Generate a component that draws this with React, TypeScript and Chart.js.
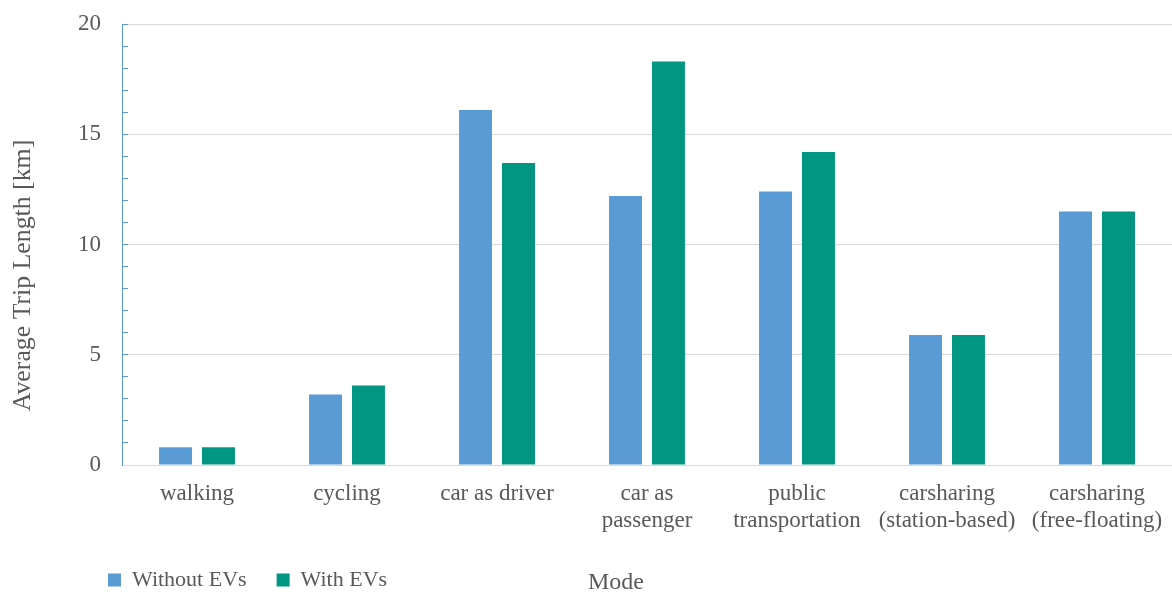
import React, { useEffect, useRef } from 'react';
import { Chart, registerables } from 'chart.js';

Chart.register(...registerables);

const categories: (string | string[])[] = [
  'walking',
  'cycling',
  'car as driver',
  ['car as', 'passenger'],
  ['public', 'transportation'],
  ['carsharing', '(station-based)'],
  ['carsharing', '(free-floating)'],
];
const withoutEVs = [0.8, 3.2, 16.1, 12.2, 12.4, 5.9, 11.5];
const withEVs = [0.8, 3.6, 13.7, 18.3, 14.2, 5.9, 11.5];
const seriesNames = ['Without EVs', 'With EVs'];
const yMin = 0;
const yMax = 20;
const yMajorStep = 5;
const yTitle = 'Average Trip Length [km]';
const xTitle = 'Mode';

const FONT = "'Liberation Serif', 'Times New Roman', serif";
const TEXT = '#595959';
const BLUE = '#5b9bd5';
const GREEN = '#009682';
const GRID = '#d9d9d9';

const titlesPlugin = {
  id: 'axisTitles',
  afterDraw(chart: any) {
    const { ctx, chartArea } = chart;
    ctx.save();
    ctx.fillStyle = TEXT;
    // y title
    ctx.font = `25.8px ${FONT}`;
    ctx.textAlign = 'center';
    ctx.textBaseline = 'middle';
    ctx.translate(23, (chartArea.top + chartArea.bottom) / 2 + 31);
    ctx.rotate(-Math.PI / 2);
    ctx.fillText(yTitle, 0, 0);
    ctx.restore();
    // x title, on the legend row
    ctx.save();
    ctx.fillStyle = TEXT;
    ctx.font = `24px ${FONT}`;
    ctx.textAlign = 'center';
    ctx.textBaseline = 'middle';
    const lg = chart.legend;
    const y = lg ? lg.top + lg.options.labels.padding + 11 + 3 : chart.height - 12;
    ctx.fillText(xTitle, (chartArea.left + chartArea.right) / 2 - 31, y);
    ctx.restore();
  },
};

export default function App() {
  const ref = useRef<HTMLCanvasElement | null>(null);

  useEffect(() => {
    if (!ref.current) return;
    const chart = new Chart(ref.current, {
      type: 'bar',
      data: {
        labels: categories,
        datasets: [
          {
            label: seriesNames[0],
            data: withoutEVs,
            backgroundColor: BLUE,
            categoryPercentage: 0.573,
            barPercentage: 0.767,
          },
          {
            label: seriesNames[1],
            data: withEVs,
            backgroundColor: GREEN,
            categoryPercentage: 0.573,
            barPercentage: 0.767,
          },
        ],
      },
      options: {
        responsive: false,
        animation: false,
        layout: { padding: { top: 24, left: 78, right: 0, bottom: -6 } },
        plugins: {
          legend: {
            position: 'bottom',
            align: 'start',
            labels: {
              boxWidth: 13,
              boxHeight: 13,
              padding: 30,
              color: TEXT,
              font: { family: FONT, size: 22 },
            },
          },
          tooltip: { enabled: false },
        },
        scales: {
          x: {
            grid: { display: false, drawTicks: false },
            border: { display: true, color: GRID, width: 1 },
            ticks: {
              autoSkip: false,
              maxRotation: 0,
              padding: 15.5,
              color: TEXT,
              font: { family: FONT, size: 23, lineHeight: 27 / 23 },
            },
            afterFit: (scale: any) => {
              scale.height -= 11;
              scale.paddingLeft = 0;
              scale.paddingRight = 0;
            },
          },
          y: {
            min: yMin,
            max: yMax,
            border: { display: true, color: BLUE, width: 1 },
            grid: {
              color: (c: any) =>
                c.tick && c.tick.value % yMajorStep === 0 ? GRID : 'rgba(0,0,0,0)',
              tickColor: BLUE,
              tickLength: -6,
              drawTicks: true,
            },
            ticks: {
              stepSize: 1,
              autoSkip: false,
              padding: 27,
              color: TEXT,
              font: { family: FONT, size: 23 },
              callback: (v: any) => (Number(v) % yMajorStep === 0 ? String(v) : ''),
            },
            afterFit: (scale: any) => {
              scale.width -= 27;
              scale.paddingTop = 0;
              scale.paddingBottom = 0;
            },
          },
        },
      },
      plugins: [titlesPlugin],
    });
    return () => chart.destroy();
  }, []);

  return (
    <div style={{ position: 'absolute', left: 0, top: 0, width: 1172, height: 595, background: '#fff' }}>
      <canvas ref={ref} width={1172} height={595} />
    </div>
  );
}
